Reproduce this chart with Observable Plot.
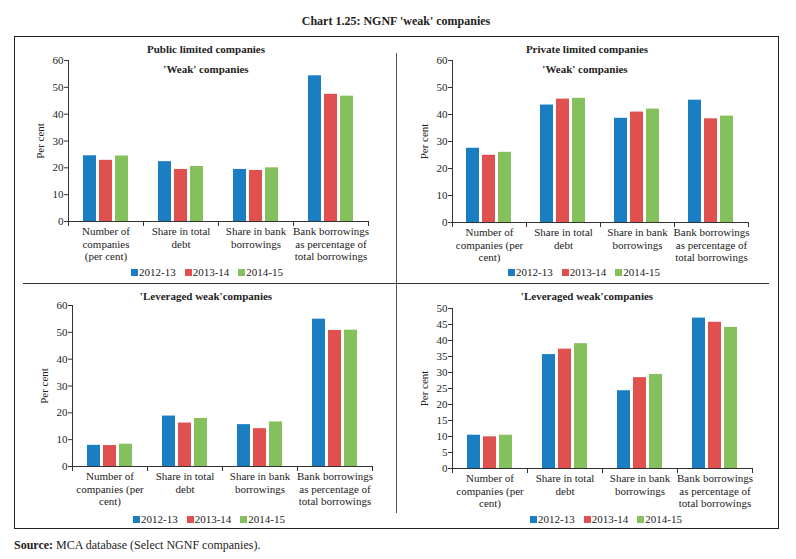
<!DOCTYPE html>
<html><head><meta charset="utf-8">
<script src="https://cdn.jsdelivr.net/npm/d3@7"></script>
<script src="https://cdn.jsdelivr.net/npm/@observablehq/plot@0.6"></script>
<style>
body{margin:0;background:#fff;}
#root{position:relative;width:796px;height:559px;font-family:"Liberation Serif",serif;color:#222;overflow:hidden;}
.abs{position:absolute;}
.ttl{position:absolute;font-weight:bold;font-size:11px;white-space:nowrap;transform:translate(-50%,-50%);}
.leg{position:absolute;display:flex;align-items:center;font-size:11px;white-space:nowrap;transform:translateY(-50%);font-family:"Liberation Serif",serif;}
.leg span.sw{display:inline-block;width:7px;height:7px;margin-right:1px;}
.leg span.it{display:inline-flex;align-items:center;margin-right:9px;}
</style></head><body><div id="root"></div>
<script>
// ---- data ----
const years = ["2012-13", "2013-14", "2014-15"];
const colors = ["#1b7dc2", "#e0504e", "#84c05b"];
const categories = ["Number of companies (per cent)", "Share in total debt", "Share in bank borrowings", "Bank borrowings as percentage of total borrowings"];
const labelsA = ["Number of\ncompanies\n(per cent)", "Share in total\ndebt", "Share in bank\nborrowings", "Bank borrowings\nas percentage of\ntotal borrowings"];
const labelsB = ["Number of\ncompanies (per\ncent)", "Share in total\ndebt", "Share in bank\nborrowings", "Bank borrowings\nas percentage of\ntotal borrowings"];
// rows: 2012-13, 2013-14, 2014-15 ; columns: categories
const publicWeak = [[24.5, 22.3, 19.4, 54.3], [22.8, 19.4, 19.0, 47.4], [24.4, 20.5, 20.0, 46.7]];
const privateWeak = [[27.5, 43.5, 38.6, 45.3], [24.9, 45.7, 40.9, 38.4], [26.0, 46.0, 42.0, 39.4]];
const publicLeveraged = [[7.9, 18.8, 15.6, 54.9], [7.8, 16.2, 14.1, 50.7], [8.3, 17.9, 16.6, 50.8]];
const privateLeveraged = [[10.4, 35.6, 24.3, 47.0], [9.9, 37.3, 28.4, 45.7], [10.4, 39.0, 29.4, 44.1]];
const ticks60 = [0, 10, 20, 30, 40, 50, 60];
const ticks50 = [0, 5, 10, 15, 20, 25, 30, 35, 40, 45, 50];
const mainTitle = "Chart 1.25: NGNF 'weak' companies";
const panelTitles = ["Public limited companies", "Private limited companies"];
const subTitles = ["'Weak' companies", "'Weak' companies", "'Leveraged weak'companies", "'Leveraged weak'companies"];

// ---- layout ----
const panels = [
  {values: publicWeak, labels: labelsA, ymax: 60, ticks: ticks60, left: 14, top: 40, width: 382, height: 230, mL: 53, mR: 28, mT: 20, mB: 49,
   title: panelTitles[0], tx: 206, ty: 49, sub: subTitles[0], sx: 206, sy: 69, lx: 131, ly: 272},
  {values: privateWeak, labels: labelsB, ymax: 60, ticks: ticks60, left: 396, top: 40, width: 382, height: 230, mL: 54, mR: 29, mT: 20, mB: 48,
   title: panelTitles[1], tx: 587, ty: 49, sub: subTitles[1], sx: 585, sy: 69, lx: 508, ly: 272},
  {values: publicLeveraged, labels: labelsB, ymax: 60, ticks: ticks60, left: 14, top: 285, width: 382, height: 230, mL: 58, mR: 24, mT: 20, mB: 49,
   title: null, sub: subTitles[2], sx: 206, sy: 296, lx: 133, ly: 519},
  {values: privateLeveraged, labels: labelsB, ymax: 50, ticks: ticks50, left: 396, top: 285, width: 382, height: 230, mL: 55, mR: 25, mT: 23, mB: 47,
   title: null, sub: subTitles[3], sx: 587, sy: 296, lx: 530, ly: 519}
];

const root = document.getElementById("root");
function add(html, cls, style) {
  const d = document.createElement("div");
  if (cls) d.className = cls;
  d.innerHTML = html;
  Object.assign(d.style, style);
  root.appendChild(d);
  return d;
}
// frame & dividers
add("", "abs", {left: "14px", top: "36px", width: "763px", height: "491px", border: "1px solid #222"});
add("", "abs", {left: "396px", top: "53px", width: "1px", height: "460px", background: "#555"});
add("", "abs", {left: "23px", top: "283px", width: "746px", height: "1px", background: "#333"});
add(mainTitle, "ttl", {left: "396px", top: "21px", fontSize: "12px"});
add("<b>Source:</b> MCA database (Select NGNF companies).", "abs", {left: "14px", top: "538px", fontSize: "12px", whiteSpace: "nowrap"});

for (const p of panels) {
  const data = [];
  p.values.forEach((row, yi) => row.forEach((v, ci) => data.push({category: categories[ci], year: years[yi], value: v})));
  const innerH = p.height - p.mT - p.mB;
  const svg = Plot.plot({
    width: p.width, height: p.height,
    marginLeft: p.mL, marginRight: p.mR, marginTop: p.mT, marginBottom: p.mB,
    style: {fontFamily: "Liberation Serif", fontSize: "11px", color: "#222", background: "transparent", overflow: "visible"},
    fx: {domain: categories, paddingInner: 0, paddingOuter: 0, axis: null, label: null},
    x: {domain: years, paddingInner: 0.18, paddingOuter: 0.8, axis: null},
    y: {domain: [0, p.ymax], axis: null},
    color: {domain: years, range: colors},
    marks: [
      Plot.barY(data, {fx: "category", x: "year", y: "value", fill: "year"}),
      Plot.ruleY([0], {stroke: "#333"}),
      Plot.frame({anchor: "left", insetTop: innerH, insetBottom: -4, stroke: "#333"}),
      Plot.frame({anchor: "right", insetTop: innerH, insetBottom: -4, stroke: "#333"}),
      Plot.frame({anchor: "left", facet: "super", insetBottom: -4, stroke: "#333"}),
      Plot.axisY({ticks: p.ticks, tickSize: 4, tickPadding: 1, stroke: "#333", label: "Per cent", labelAnchor: "center", labelArrow: "none", labelOffset: 32}),
      Plot.axisFx({anchor: "bottom", tickSize: 0, tickPadding: 5, lineHeight: 1.13, label: null, tickFormat: d => p.labels[categories.indexOf(d)]})
    ]
  });
  Object.assign(svg.style, {position: "absolute", left: p.left + "px", top: p.top + "px"});
  root.appendChild(svg);
  if (p.title) add(p.title, "ttl", {left: p.tx + "px", top: p.ty + "px"});
  add(p.sub, "ttl", {left: p.sx + "px", top: p.sy + "px"});
  add(years.map((y, i) => `<span class="it"><span class="sw" style="background:${colors[i]}"></span>${y}</span>`).join(""), "leg", {left: p.lx + "px", top: p.ly + "px"});
}
</script></body></html>
